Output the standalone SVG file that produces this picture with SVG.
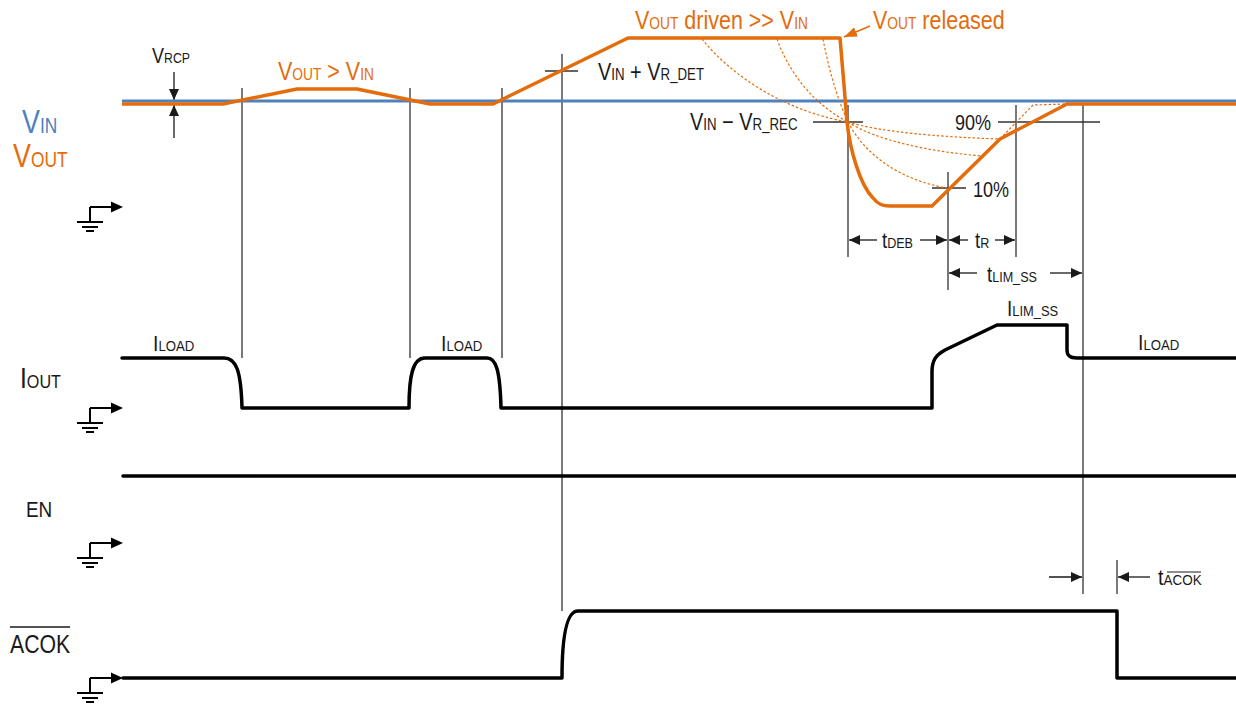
<svg xmlns="http://www.w3.org/2000/svg" width="1236" height="707" viewBox="0 0 1236 707">
<style>
text{font-family:"Liberation Sans",Arial,sans-serif;fill:#1a1a1a}
.o{fill:#E46C0A}
.b{fill:#4F81BD}
.wave{fill:none;stroke:#000;stroke-width:3.5;stroke-linejoin:round;stroke-linecap:round}
.vo{fill:none;stroke:#E46C0A;stroke-width:3.5;stroke-linejoin:round}
.vi{fill:none;stroke:#4F81BD;stroke-width:3}
.dash{fill:none;stroke:#E46C0A;stroke-width:1.2;stroke-dasharray:2.5 2}
.thin{fill:none;stroke:#333;stroke-width:1.3}
.dim{fill:none;stroke:#1a1a1a;stroke-width:1.3;marker-end:url(#ah)}
.gnd{fill:none;stroke:#000;stroke-width:2}
</style>
<defs>
<marker id="ah" markerUnits="userSpaceOnUse" markerWidth="12" markerHeight="10" refX="11" refY="5" orient="auto"><path d="M0,0 L11,5 L0,10 Z" fill="#1a1a1a"/></marker>
<marker id="aho" markerUnits="userSpaceOnUse" markerWidth="14" markerHeight="10" refX="13" refY="5" orient="auto"><path d="M0,0 L13,5 L0,10 Z" fill="#E46C0A"/></marker>
<g id="ground">
<path class="gnd" d="M0,0 V15 M-13,15 H13 M-8,20 H8 M-4,24 H4 M0,0 H22"/>
<path d="M33,0 L21,-5.5 L21,5.5 Z" fill="#000"/>
</g>
</defs>

<g id="labels">
<text transform="translate(22,133) scale(0.79,1)" font-size="34" class="b">V<tspan font-size="22">IN</tspan></text>
<text transform="translate(13,167) scale(0.79,1)" font-size="34" class="o">V<tspan font-size="22">OUT</tspan></text>
<text transform="translate(20,388) scale(0.85,1)" font-size="29">I<tspan font-size="19">OUT</tspan></text>
<text transform="translate(26,517) scale(0.86,1)" font-size="22">EN</text>
<text transform="translate(10,653) scale(0.85,1)" font-size="25">ACOK</text>
<line x1="10" y1="627" x2="70" y2="627" stroke="#1a1a1a" stroke-width="1.5"/>
</g>

<g id="grounds">
<use href="#ground" x="90" y="207"/>
<use href="#ground" x="90" y="408"/>
<use href="#ground" x="90" y="543"/>
<use href="#ground" x="90" y="678"/>
</g>

<g id="connectors">
<g id="time-lines">
<path class="thin" d="M242,88 V358 M410,88 V358 M502,88 V358 M562,54 V611 M848,105 V257 M948,172 V290 M1016,105 V257 M1083,105 V594 M1117,560 V594"/>
<path class="thin" d="M545,71 H578 M813,122 H863 M998,122 H1100 M932,188 H966"/>
</g>
<g id="dimensions">
<line class="dim" x1="174" y1="72" x2="174" y2="100"/>
<line class="dim" x1="174" y1="138" x2="174" y2="105"/>
<line class="dim" x1="877" y1="240" x2="849" y2="240"/>
<line class="dim" x1="920" y1="240" x2="947" y2="240"/>
<line class="dim" x1="968" y1="240" x2="949" y2="240"/>
<line class="dim" x1="995" y1="240" x2="1015" y2="240"/>
<line class="dim" x1="977" y1="273" x2="949" y2="273"/>
<line class="dim" x1="1050" y1="273" x2="1082" y2="273"/>
<line class="dim" x1="1049" y1="577" x2="1082" y2="577"/>
<line class="dim" x1="1150" y1="577" x2="1118" y2="577"/>
<line x1="870" y1="26" x2="844" y2="37" stroke="#E46C0A" stroke-width="1.5" marker-end="url(#aho)"/>
</g>
</g>

<g id="vin-vout">
<path class="vi" d="M122,101 H1236"/>
<path class="dash" d="M702,39 C735,80 790,112 848,122 M777,39 C790,75 815,105 848,122 M823,39 C830,75 838,100 848,122"/>
<path class="dash" d="M848,122 C880,132 940,137 1000,139 M848,122 C875,140 930,152 983,156 M848,122 C865,155 900,180 947,188 M1000,139 L1033,105 L1067,104"/>
<path class="vo" d="M122,104 H223 L297,89 H357 L430,104 H493 L628,38 H840 L844,85 L847,122 C850,150 860,185 873,198 C878,204 882,206 890,206 H932 L1000,139 L1067,104 H1236"/>
</g>

<g id="iout">
<path class="wave" d="M122,358 H224 C236,358 241,370 242,408 H409 C409,375 413,358 425,358 H487 C496,358 500,370 501,408 H932 V372 C932,360 936,355 945,350 L997,325 H1067 V350 C1067,356 1070,358 1077,358 H1236"/>
</g>
<g id="en"><path class="wave" d="M123,476 H1236"/></g>
<g id="acok"><path class="wave" d="M123,678 H562 C562,640 566,611 578,611 H1117 V678 H1236"/></g>

<g id="annotations">
<text transform="translate(152,63) scale(0.82,1)" font-size="22">V<tspan font-size="15">RCP</tspan></text>
<text transform="translate(278,80) scale(0.86,1)" font-size="25" class="o">V<tspan font-size="16">OUT</tspan> &gt; V<tspan font-size="16">IN</tspan></text>
<text transform="translate(635,29) scale(0.86,1)" font-size="25" class="o">V<tspan font-size="16">OUT</tspan> driven &gt;&gt; V<tspan font-size="16">IN</tspan></text>
<text transform="translate(873,29) scale(0.86,1)" font-size="25" class="o">V<tspan font-size="16">OUT</tspan> released</text>
<text transform="translate(598,80) scale(0.83,1)" font-size="24">V<tspan font-size="16">IN</tspan> + V<tspan font-size="16">R_DET</tspan></text>
<text transform="translate(690,130) scale(0.83,1)" font-size="24">V<tspan font-size="16">IN</tspan> − V<tspan font-size="16">R_REC</tspan></text>
<text transform="translate(955,130) scale(0.82,1)" font-size="22">90%</text>
<text transform="translate(973,197) scale(0.82,1)" font-size="22">10%</text>
<text transform="translate(882,248) scale(0.84,1)" font-size="22">t<tspan font-size="15">DEB</tspan></text>
<text transform="translate(975,248) scale(0.84,1)" font-size="22">t<tspan font-size="15">R</tspan></text>
<text transform="translate(987,282) scale(0.84,1)" font-size="22">t<tspan font-size="15">LIM_SS</tspan></text>
<text transform="translate(1007,316) scale(0.86,1)" font-size="22">I<tspan font-size="15">LIM_SS</tspan></text>
<text transform="translate(153,351) scale(0.88,1)" font-size="22">I<tspan font-size="15">LOAD</tspan></text>
<text transform="translate(441,351) scale(0.88,1)" font-size="22">I<tspan font-size="15">LOAD</tspan></text>
<text transform="translate(1138,350) scale(0.88,1)" font-size="22">I<tspan font-size="15">LOAD</tspan></text>
<text transform="translate(1158,585) scale(0.9,1)" font-size="22">t<tspan font-size="15">ACOK</tspan></text>
<line x1="1167" y1="572" x2="1201" y2="572" stroke="#1a1a1a" stroke-width="1.2"/>
</g>
</svg>
